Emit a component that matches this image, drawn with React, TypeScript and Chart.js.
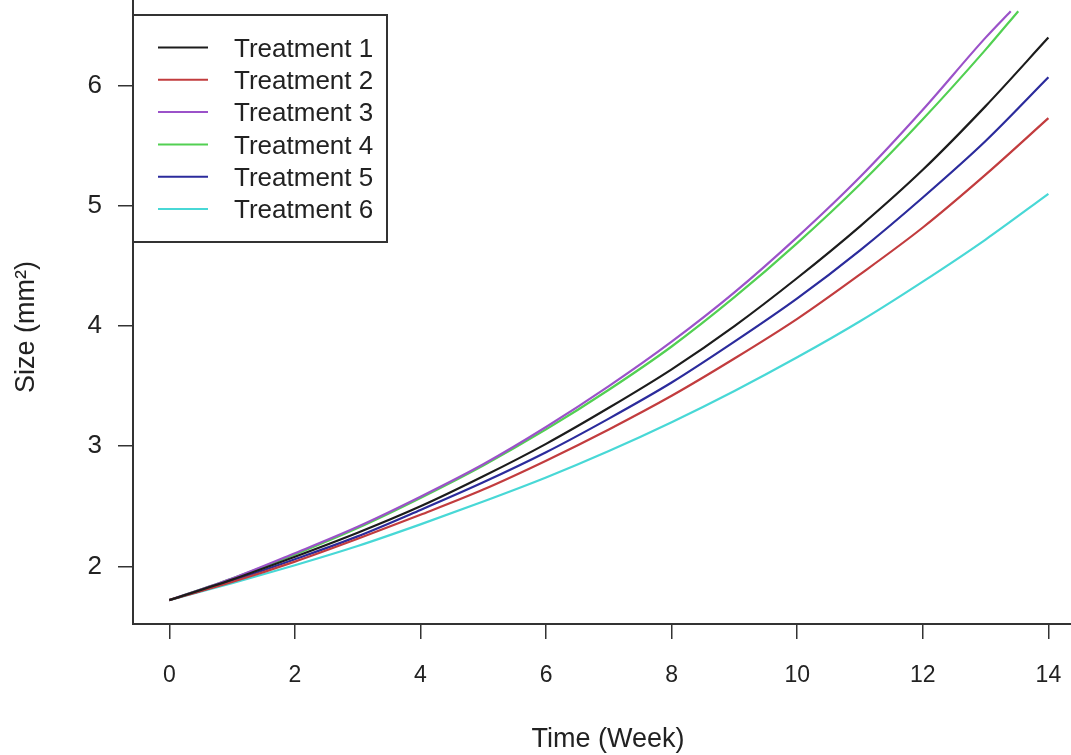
import React, { useEffect, useRef } from "react";
import { Chart, registerables } from "chart.js";

Chart.register(...registerables);

// ---- Data ----
const weeks = [0, 1, 2, 3, 4, 5, 6, 7, 8, 9, 10, 11, 12, 13, 14];
const weeksT3 = [0, 1, 2, 3, 4, 5, 6, 7, 8, 9, 10, 11, 12, 13, 13.4];
const weeksT4 = [0, 1, 2, 3, 4, 5, 6, 7, 8, 9, 10, 11, 12, 13, 13.52];

const treatment1 = [1.72, 1.89, 2.08, 2.28, 2.5, 2.75, 3.02, 3.32, 3.64, 4.0, 4.4, 4.83, 5.3, 5.83, 6.4];
const treatment2 = [1.72, 1.87, 2.04, 2.23, 2.43, 2.64, 2.88, 3.14, 3.42, 3.73, 4.06, 4.43, 4.82, 5.26, 5.73];
const treatment3 = [1.72, 1.9, 2.11, 2.33, 2.58, 2.85, 3.16, 3.5, 3.87, 4.28, 4.74, 5.24, 5.8, 6.4, 6.62];
const treatment4 = [1.72, 1.9, 2.1, 2.32, 2.57, 2.84, 3.14, 3.47, 3.83, 4.24, 4.69, 5.18, 5.72, 6.3, 6.62];
const treatment5 = [1.72, 1.88, 2.06, 2.25, 2.47, 2.7, 2.95, 3.23, 3.53, 3.87, 4.23, 4.63, 5.07, 5.54, 6.07];
const treatment6 = [1.72, 1.86, 2.01, 2.17, 2.35, 2.54, 2.74, 2.96, 3.2, 3.46, 3.74, 4.04, 4.37, 4.72, 5.1];

const seriesLabels = ["Treatment 1", "Treatment 2", "Treatment 3", "Treatment 4", "Treatment 5", "Treatment 6"];
const seriesColors = ["#1c1c1c", "#c23c3e", "#9b52c9", "#52d052", "#2b2b9c", "#48d8d6"];

const xTickValues = [0, 2, 4, 6, 8, 10, 12, 14];
const yTickValues = [2, 3, 4, 5, 6];

const xTitle = "Time (Week)";
const yTitle = "Size (mm²)";

const FONT = "'Liberation Sans', Arial, Helvetica, sans-serif";

const legendPlugin = {
  id: "rStyleLegend",
  afterDraw(chart: any) {
    const ctx = chart.ctx as CanvasRenderingContext2D;
    const left = chart.chartArea.left;
    ctx.save();
    ctx.fillStyle = "#ffffff";
    ctx.fillRect(left, 15, 254, 227);
    ctx.strokeStyle = "#333333";
    ctx.lineWidth = 2;
    ctx.strokeRect(left, 15, 254, 227);
    chart.data.datasets.forEach((ds: any, i: number) => {
      const y = 47.5 + i * 32.3;
      ctx.strokeStyle = ds.borderColor;
      ctx.lineWidth = 2;
      ctx.beginPath();
      ctx.moveTo(left + 25, y);
      ctx.lineTo(left + 75, y);
      ctx.stroke();
      ctx.fillStyle = "#222222";
      ctx.font = `26px ${FONT}`;
      ctx.textBaseline = "middle";
      ctx.textAlign = "left";
      ctx.fillText(ds.label, left + 101, y + 2);
    });
    ctx.restore();
  },
};

const axisTitlePlugin = {
  id: "rStyleAxisTitles",
  afterDraw(chart: any) {
    const ctx = chart.ctx as CanvasRenderingContext2D;
    const { left, right } = chart.chartArea;
    ctx.save();
    ctx.fillStyle = "#222222";
    ctx.font = `27px ${FONT}`;
    ctx.textAlign = "center";
    ctx.textBaseline = "middle";
    ctx.fillText(xTitle, (left + right) / 2 + 6, 740);
    ctx.translate(27, 327);
    ctx.rotate(-Math.PI / 2);
    ctx.fillText(yTitle, 0, 0);
    ctx.restore();
  },
};

export default function App() {
  const canvasRef = useRef<HTMLCanvasElement | null>(null);

  useEffect(() => {
    if (!canvasRef.current) return;
    const mk = (xs: number[], ys: number[]) => xs.map((x, i) => ({ x, y: ys[i] }));
    const allData = [
      mk(weeks, treatment1),
      mk(weeks, treatment2),
      mk(weeksT3, treatment3),
      mk(weeksT4, treatment4),
      mk(weeks, treatment5),
      mk(weeks, treatment6),
    ];
    const chart = new Chart(canvasRef.current, {
      type: "line",
      data: {
        datasets: allData.map((d, i) => ({
          label: seriesLabels[i],
          data: d,
          borderColor: seriesColors[i],
          backgroundColor: seriesColors[i],
          borderWidth: 2.2,
          pointRadius: 0,
          fill: false,
          cubicInterpolationMode: "monotone" as const,
        })),
      },
      options: {
        responsive: false,
        maintainAspectRatio: false,
        animation: false,
        layout: { padding: 0 },
        plugins: {
          legend: { display: false },
          tooltip: { enabled: false },
        },
        scales: {
          x: {
            type: "linear",
            min: -0.578,
            max: 14.36,
            afterFit: (s: any) => {
              s.height = 131;
              s.paddingLeft = 0;
              s.paddingRight = 0;
            },
            afterBuildTicks: (s: any) => {
              s.ticks = xTickValues.map((v) => ({ value: v }));
            },
            ticks: {
              font: { family: FONT, size: 23 },
              color: "#222222",
              padding: 23,
              maxRotation: 0,
              autoSkip: false,
            },
            grid: {
              display: true,
              drawOnChartArea: false,
              drawTicks: true,
              tickLength: 15,
              color: "#333333",
              lineWidth: 1.5,
            },
            border: { display: true, color: "#333333", width: 2 },
          },
          y: {
            type: "linear",
            min: 1.521,
            max: 6.713,
            afterFit: (s: any) => {
              s.width = 133;
              s.paddingTop = 0;
              s.paddingBottom = 0;
            },
            afterBuildTicks: (s: any) => {
              s.ticks = yTickValues.map((v) => ({ value: v }));
            },
            ticks: {
              font: { family: FONT, size: 26 },
              color: "#222222",
              padding: 16,
              autoSkip: false,
            },
            grid: {
              display: true,
              drawOnChartArea: false,
              drawTicks: true,
              tickLength: 15,
              color: "#333333",
              lineWidth: 1.5,
            },
            border: { display: true, color: "#333333", width: 2 },
          },
        },
      },
      plugins: [legendPlugin, axisTitlePlugin],
    });
    return () => chart.destroy();
  }, []);

  return (
    <div style={{ position: "fixed", left: 0, top: 0, width: 1071, height: 755, background: "#ffffff" }}>
      <canvas ref={canvasRef} width={1071} height={755} style={{ display: "block" }} />
    </div>
  );
}
